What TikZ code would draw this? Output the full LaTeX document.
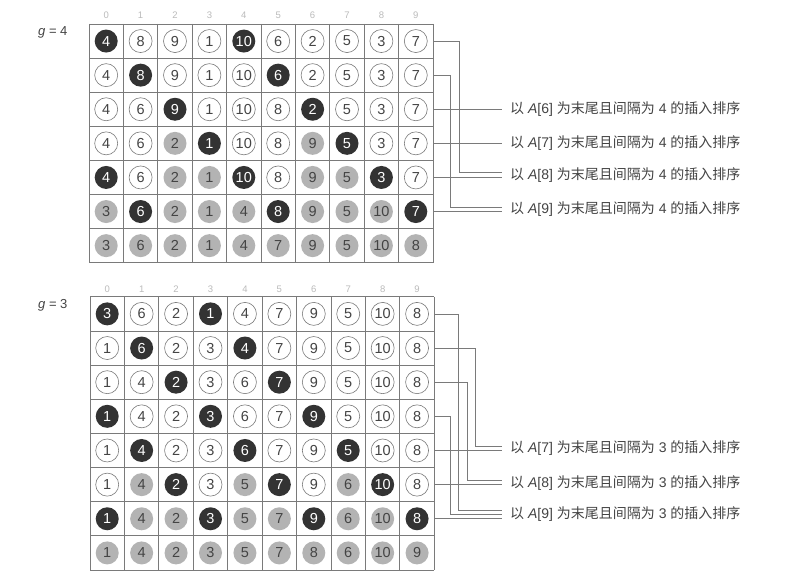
\documentclass[tikz,border=0pt]{standalone}
\usepackage{fontspec}
\setmainfont{Liberation Sans}
\newfontfamily\cjk{Noto Sans CJK SC}
\definecolor{dk}{HTML}{333333}
\definecolor{gy}{HTML}{B3B3B3}
\definecolor{txt}{HTML}{444444}
\definecolor{ln}{HTML}{7A7A7A}
\definecolor{hd}{HTML}{BBBBBB}
\begin{document}
\begin{tikzpicture}[x=1pt,y=-1pt,
  cellbase/.style={circle,minimum size=23pt,inner sep=0pt,font=\fontsize{14.5}{14.5}\selectfont},
  cellw/.style={cellbase,draw=ln,line width=0.6pt,fill=white,text=txt},
  celld/.style={cellbase,fill=dk,text=white},
  cellg/.style={cellbase,fill=gy,text=txt},
  gridln/.style={draw=ln,line width=0.8pt},
  conn/.style={draw=ln,line width=0.7pt,shorten >=8pt},
  hdr/.style={text=hd,font=\fontsize{9.5}{9.5}\selectfont},
  lab/.style={anchor=west,inner sep=0pt,text=txt,font=\fontsize{14}{14}\selectfont},
  glab/.style={anchor=west,inner sep=0pt,text=txt,font=\fontsize{13}{13}\selectfont}]
\useasboundingbox[fill=white] (0,0) rectangle (808,586);
% ---------- top grid (g = 4)
\def\tx{89}\def\ty{24}\def\cw{34.4}\def\rh{34.1}
\foreach \i in {0,...,10} \draw[gridln] (\tx+\i*\cw,\ty) -- (\tx+\i*\cw,\ty+7*\rh);
\foreach \j in {0,...,7} \draw[gridln] (\tx,\ty+\j*\rh) -- (\tx+10*\cw,\ty+\j*\rh);
\foreach \i in {0,...,9} \node[hdr] (ha-\i) at (\tx+\i*\cw+\cw/2,15) {\i};
\foreach \row [count=\r from 0] in {
  {4/celld,8/cellw,9/cellw,1/cellw,10/celld,6/cellw,2/cellw,5/cellw,3/cellw,7/cellw},
  {4/cellw,8/celld,9/cellw,1/cellw,10/cellw,6/celld,2/cellw,5/cellw,3/cellw,7/cellw},
  {4/cellw,6/cellw,9/celld,1/cellw,10/cellw,8/cellw,2/celld,5/cellw,3/cellw,7/cellw},
  {4/cellw,6/cellw,2/cellg,1/celld,10/cellw,8/cellw,9/cellg,5/celld,3/cellw,7/cellw},
  {4/celld,6/cellw,2/cellg,1/cellg,10/celld,8/cellw,9/cellg,5/cellg,3/celld,7/cellw},
  {3/cellg,6/celld,2/cellg,1/cellg,4/cellg,8/celld,9/cellg,5/cellg,10/cellg,7/celld},
  {3/cellg,6/cellg,2/cellg,1/cellg,4/cellg,7/cellg,9/cellg,5/cellg,10/cellg,8/cellg}}{
  \foreach \v/\s [count=\c from 0] in \row
    \node[\s] (a-\r-\c) at (\tx+\c*\cw+\cw/2,\ty+\r*\rh+\rh/2) {\v};
}
\foreach \r in {0,...,5} \coordinate (ea-\r) at (\tx+10*\cw,\ty+\r*\rh+\rh/2);
\node[glab] (g4) at (38,32) {\textit{g} = 4};
\node[lab] (la6) at (510,109.25) {{\cjk 以} \textit{A}[6] {\cjk 为末尾且间隔为} 4 {\cjk 的插入排序}};
\node[lab] (la7) at (510,143.35) {{\cjk 以} \textit{A}[7] {\cjk 为末尾且间隔为} 4 {\cjk 的插入排序}};
\node[lab] (la8) at (510,174.9) {{\cjk 以} \textit{A}[8] {\cjk 为末尾且间隔为} 4 {\cjk 的插入排序}};
\node[lab] (la9) at (510,209.3) {{\cjk 以} \textit{A}[9] {\cjk 为末尾且间隔为} 4 {\cjk 的插入排序}};
\coordinate (va-0) at (459.3,172.3);
\coordinate (va-1) at (450.7,207.0);
\draw[conn] (ea-0) -| (va-0) -- (va-0 -| la8.west);
\draw[conn] (ea-1) -| (va-1) -- (va-1 -| la9.west);
\draw[conn] (ea-2) -- (ea-2 -| la6.west);
\draw[conn] (ea-3) -- (ea-3 -| la7.west);
\draw[conn] (ea-4) -- (ea-4 -| la8.west);
\draw[conn] (ea-5) -- (ea-5 -| la9.west);
% ---------- bottom grid (g = 3)
\def\bx{90}\def\by{296.8}\def\bcw{34.43}\def\brh{34.15}
\foreach \i in {0,...,10} \draw[gridln] (\bx+\i*\bcw,\by) -- (\bx+\i*\bcw,\by+8*\brh);
\foreach \j in {0,...,8} \draw[gridln] (\bx,\by+\j*\brh) -- (\bx+10*\bcw,\by+\j*\brh);
\foreach \i in {0,...,9} \node[hdr] (hb-\i) at (\bx+\i*\bcw+\bcw/2,289) {\i};
\foreach \row [count=\r from 0] in {
  {3/celld,6/cellw,2/cellw,1/celld,4/cellw,7/cellw,9/cellw,5/cellw,10/cellw,8/cellw},
  {1/cellw,6/celld,2/cellw,3/cellw,4/celld,7/cellw,9/cellw,5/cellw,10/cellw,8/cellw},
  {1/cellw,4/cellw,2/celld,3/cellw,6/cellw,7/celld,9/cellw,5/cellw,10/cellw,8/cellw},
  {1/celld,4/cellw,2/cellw,3/celld,6/cellw,7/cellw,9/celld,5/cellw,10/cellw,8/cellw},
  {1/cellw,4/celld,2/cellw,3/cellw,6/celld,7/cellw,9/cellw,5/celld,10/cellw,8/cellw},
  {1/cellw,4/cellg,2/celld,3/cellw,5/cellg,7/celld,9/cellw,6/cellg,10/celld,8/cellw},
  {1/celld,4/cellg,2/cellg,3/celld,5/cellg,7/cellg,9/celld,6/cellg,10/cellg,8/celld},
  {1/cellg,4/cellg,2/cellg,3/cellg,5/cellg,7/cellg,8/cellg,6/cellg,10/cellg,9/cellg}}{
  \foreach \v/\s [count=\c from 0] in \row
    \node[\s] (b-\r-\c) at (\bx+\c*\bcw+\bcw/2,\by+\r*\brh+\brh/2) {\v};
}
\foreach \r in {0,...,6} \coordinate (eb-\r) at (\bx+10*\bcw,\by+\r*\brh+\brh/2);
\node[glab] (g3) at (38,305) {\textit{g} = 3};
\node[lab] (lb7) at (510,448.2) {{\cjk 以} \textit{A}[7] {\cjk 为末尾且间隔为} 3 {\cjk 的插入排序}};
\node[lab] (lb8) at (510,482.6) {{\cjk 以} \textit{A}[8] {\cjk 为末尾且间隔为} 3 {\cjk 的插入排序}};
\node[lab] (lb9) at (510,514.4) {{\cjk 以} \textit{A}[9] {\cjk 为末尾且间隔为} 3 {\cjk 的插入排序}};
\coordinate (vb-0) at (458.8,510.0);
\coordinate (vb-1) at (475.5,445.9);
\coordinate (vb-2) at (467.0,480.6);
\coordinate (vb-3) at (450.2,514.4);
\draw[conn] (eb-0) -| (vb-0) -- (vb-0 -| lb9.west);
\draw[conn] (eb-1) -| (vb-1) -- (vb-1 -| lb7.west);
\draw[conn] (eb-2) -| (vb-2) -- (vb-2 -| lb8.west);
\draw[conn] (eb-3) -| (vb-3) -- (vb-3 -| lb9.west);
\draw[conn] (eb-4) -- (eb-4 -| lb7.west);
\draw[conn] (eb-5) -- (eb-5 -| lb8.west);
\draw[conn] (eb-6) -- (eb-6 -| lb9.west);
\end{tikzpicture}
\end{document}
